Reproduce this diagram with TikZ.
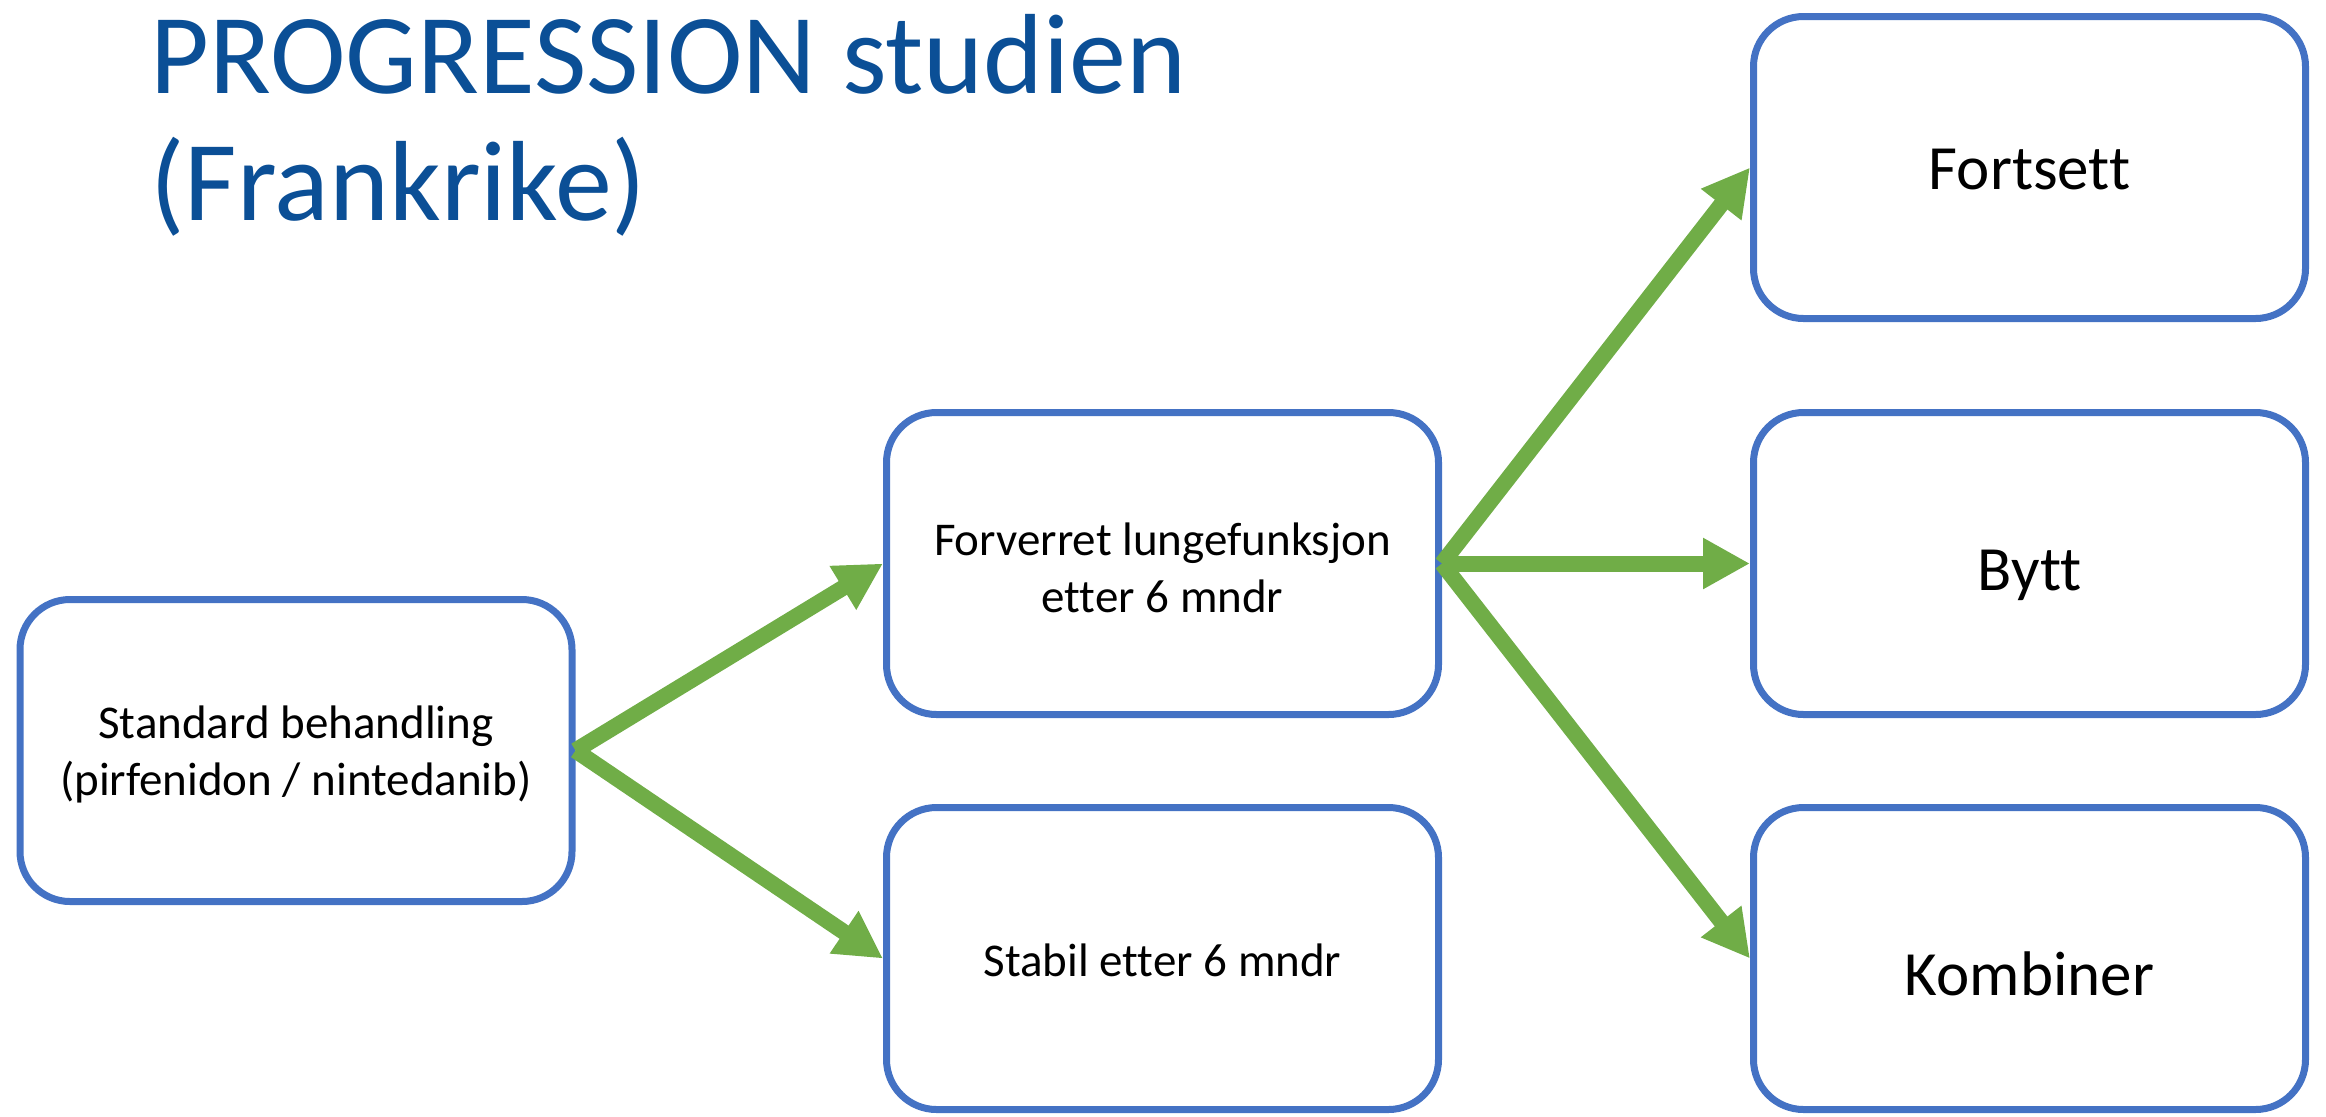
\documentclass[tikz,border=0pt]{standalone}
\usepackage{fontspec}
\setmainfont{Carlito}[Ligatures=NoCommon]
\usetikzlibrary{arrows.meta}
\definecolor{boxblue}{HTML}{4472C4}
\definecolor{arrowgreen}{HTML}{70AD47}
\definecolor{titleblue}{HTML}{0B4F96}
% two centred lines whose baseline is the first line
\newcommand{\stacklines}[2]{\begin{tabular}[t]{@{}c@{}}#1\\#2\end{tabular}}
\tikzset{
  px/.style={x=0.5pt,y=-0.5pt},
  stage/.style={draw=boxblue, line width=3.5pt, rounded corners=25pt, fill=white,
    minimum width=276pt, minimum height=151pt, inner sep=0pt,
    font=\fontsize{23.5}{28.5}\selectfont, text=black},
  choice/.style={stage, font=\fontsize{31.5}{36}\selectfont},
  % baseline placed #1 below the box centre
  below centre/.style={text height=#1, text depth=0pt},
  % baseline placed #1 above the box centre
  above centre/.style={text height=0pt, text depth=#1},
  flow/.style={draw=arrowgreen, line width=8pt,
    -{Triangle[length=23.5pt,width=24pt]}},
  heading/.style={anchor=base west, inner sep=0pt, text=titleblue,
    font=\fontsize{57}{63}\selectfont}
}
\begin{document}
\begin{tikzpicture}[px]
  \useasboundingbox (0,0) rectangle (2326,1116);

  % title, two lines
  \node[heading] (title1) at (150,93) {PROGRESSION studien};
  \node[heading] (title2) at (150,220) {(Frankrike)};

  % decision boxes
  \node[stage, above centre=12.5pt] (std) at (296,750.5)
    {\stacklines{Standard behandling}{(pirfenidon / nintedanib)}};
  \node[stage, above centre=8.5pt] (fwd) at (1162.5,563.5)
    {\stacklines{Forverret lungefunksjon}{etter 6 mndr}};
  \node[stage, below centre=17.5pt] (stb) at (1162.5,958.5) {Stabil etter 6 mndr};
  \node[choice, below centre=21.5pt] (fort) at (2029.5,167.5) {Fortsett};
  \node[choice, below centre=26.5pt] (bytt) at (2029.5,563.5) {Bytt};
  \node[choice, below centre=36.5pt] (komb) at (2029.5,958.5) {Kombiner};

  % connectors
  \draw[flow] (std.east) -- (fwd.west);
  \draw[flow] (std.east) -- (stb.west);
  \draw[flow] (fwd.east) -- (fort.west);
  \draw[flow] (fwd.east) -- (bytt.west);
  \draw[flow] (fwd.east) -- (komb.west);
\end{tikzpicture}
\end{document}
